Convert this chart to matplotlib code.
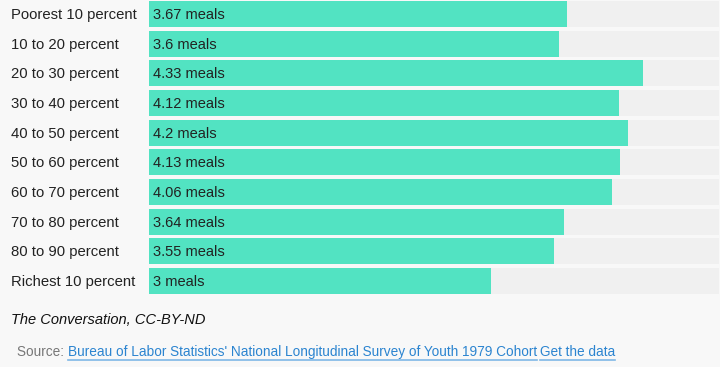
import matplotlib
matplotlib.use('Agg')
import matplotlib.pyplot as plt
from matplotlib.lines import Line2D

# Data
groups = ["Poorest 10 percent", "10 to 20 percent", "20 to 30 percent", "30 to 40 percent",
          "40 to 50 percent", "50 to 60 percent", "60 to 70 percent", "70 to 80 percent",
          "80 to 90 percent", "Richest 10 percent"]
meals = [3.67, 3.6, 4.33, 4.12, 4.2, 4.13, 4.06, 3.64, 3.55, 3.0]
value_labels = ["3.67 meals", "3.6 meals", "4.33 meals", "4.12 meals", "4.2 meals",
                "4.13 meals", "4.06 meals", "3.64 meals", "3.55 meals", "3 meals"]
max_val = 5

plt.rcParams['font.family'] = ['Liberation Sans', 'DejaVu Sans']

W, H = 720, 367
fig = plt.figure(figsize=(W / 100, H / 100), dpi=100)
fig.patch.set_facecolor('#f8f8f8')

ax = fig.add_axes([149 / W, (H - 295.9) / H, 570 / W, 296.7 / H])
ax.set_facecolor('none')
y = list(range(len(groups)))
ax.barh(y, [max_val] * len(groups), height=0.876, color='#f0f0f0')
ax.barh(y, meals, height=0.876, color='#52e3c2')
ax.set_xlim(0, max_val)
ax.set_ylim(len(groups) - 0.5, -0.5)
ax.axis('off')

tr_lab = matplotlib.transforms.blended_transform_factory(fig.transFigure, ax.transData)
tr_val = matplotlib.transforms.blended_transform_factory(ax.transAxes, ax.transData)
for i, (g, lab) in enumerate(zip(groups, value_labels)):
    ax.text(11 / W, i + 0.03, g, transform=tr_lab, ha='left', va='center', fontsize=10.7, color='#222222')
    ax.text(4 / 570, i + 0.03, lab, transform=tr_val, ha='left', va='center', fontsize=10.5, color='#222222')

fig.text(11 / W, 1 - 320 / H, "The Conversation, CC-BY-ND", fontsize=10.5, style='italic',
         color='#111111', va='center', ha='left')

# Source line with links
fig.canvas.draw()
renderer = fig.canvas.get_renderer()
x = 17
ys = 1 - 352 / H
parts = [("Source: ", '#777777', False), ("Bureau of Labor Statistics' National Longitudinal Survey of Youth 1979 Cohort", '#2b84d0', True),
         (" ", '#777777', False), ("Get the data", '#2b84d0', True)]
for text, col, link in parts:
    t = fig.text(x / W, ys, text, fontsize=9.8, color=col, va='center', ha='left')
    bb = t.get_window_extent(renderer)
    if link:
        uy = (bb.y0 - 1) / H
        fig.add_artist(Line2D([bb.x0 / W, bb.x1 / W], [uy, uy], transform=fig.transFigure,
                              color='#7fb8e6', lw=1.2))
    x = bb.x1 if text.strip() else x + 3

plt.savefig('out.png', dpi=100, facecolor=fig.get_facecolor())
